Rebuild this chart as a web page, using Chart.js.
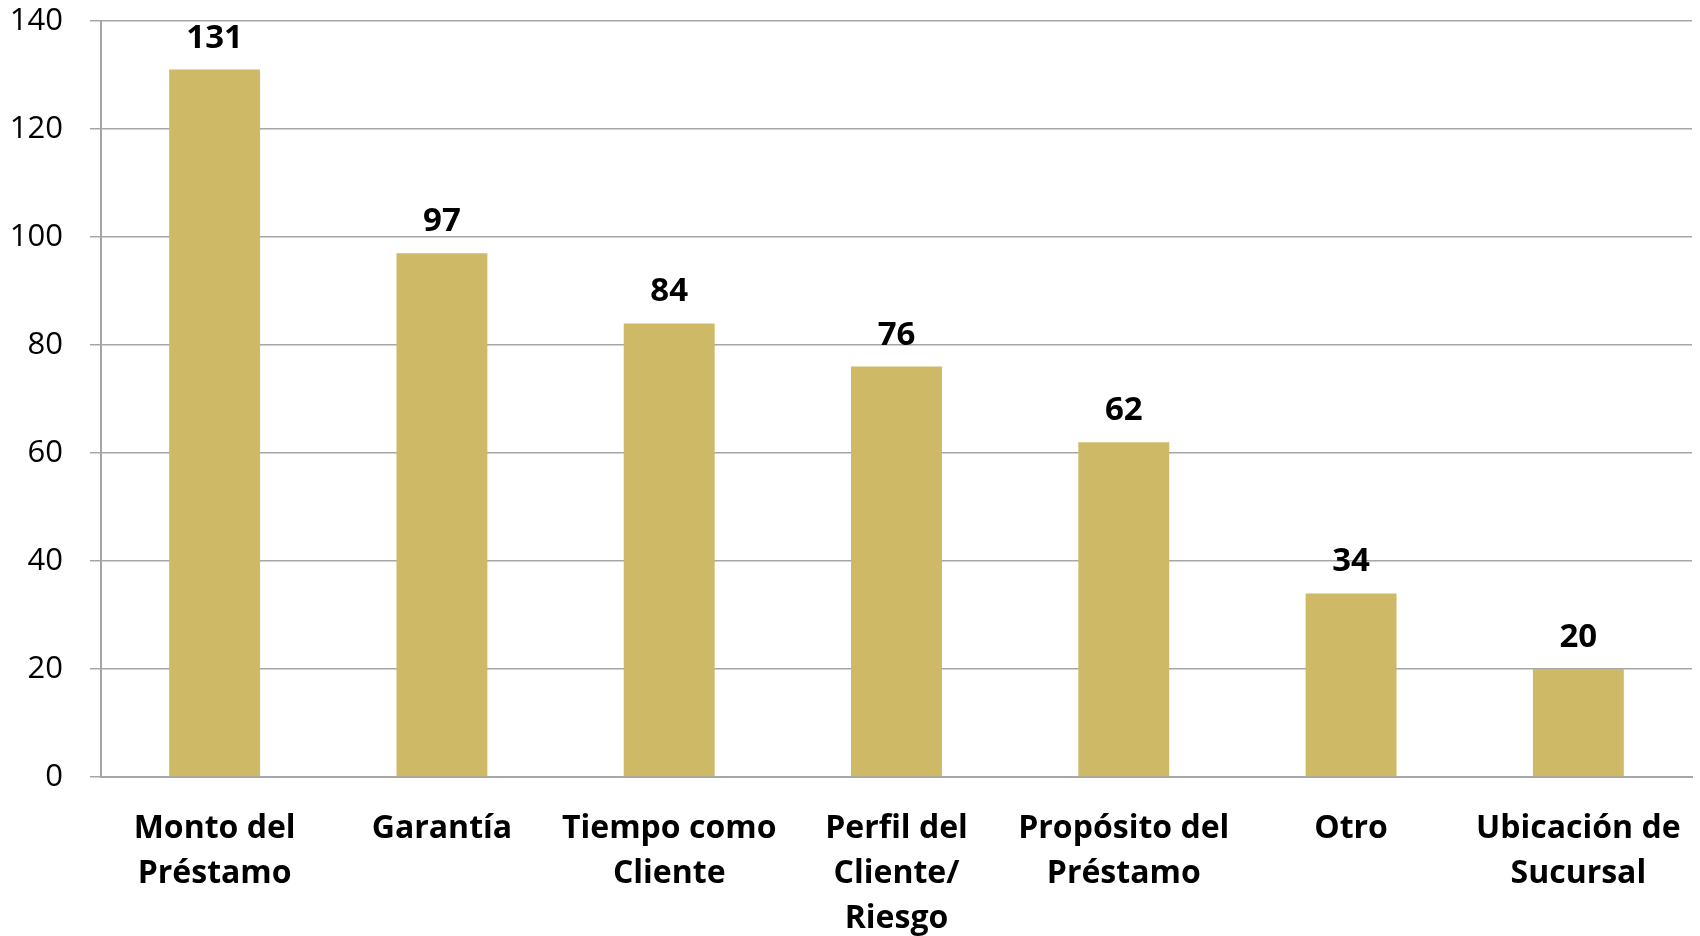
<!DOCTYPE html>
<html>
<head>
<meta charset="utf-8">
<script src="https://cdn.jsdelivr.net/npm/chart.js@4/dist/chart.umd.min.js"></script>
<style>
  html, body { margin:0; padding:0; background:#fff; }
  #wrap { width:1700px; height:936px; }
</style>
</head>
<body>
<div id="wrap"><canvas id="chart"></canvas></div>
<script>
// categories (wrapped like the original)
const categories = [
  ['Monto del', 'Préstamo'],
  ['Garantía'],
  ['Tiempo como', 'Cliente'],
  ['Perfil del', 'Cliente/', 'Riesgo'],
  ['Propósito del', 'Préstamo'],
  ['Otro'],
  ['Ubicación de', 'Sucursal']
];
const values = [131, 97, 84, 76, 62, 34, 20];
const yTicks = [0, 20, 40, 60, 80, 100, 120, 140];

const barColor = 'rgb(206,185,102)';
const gridColor = '#a6a6a6';
const fontFam = '"Open Sans", Lato, sans-serif';

// draws the value on top of each bar
const valueLabels = {
  id: 'valueLabels',
  afterDatasetsDraw(chart) {
    const ctx = chart.ctx;
    const meta = chart.getDatasetMeta(0);
    ctx.save();
    ctx.font = 'bold 33px ' + fontFam;
    ctx.fillStyle = '#000';
    ctx.textAlign = 'center';
    ctx.textBaseline = 'alphabetic';
    meta.data.forEach((bar, i) => {
      ctx.fillText(values[i], bar.x, bar.y - 22);
    });
    ctx.restore();
  }
};

new Chart(document.getElementById('chart'), {
  type: 'bar',
  data: {
    labels: categories,
    datasets: [{
      data: values,
      backgroundColor: barColor,
      borderWidth: 0,
      barPercentage: 0.4,
      categoryPercentage: 1
    }]
  },
  options: {
    responsive: true,
    maintainAspectRatio: false,
    animation: false,
    layout: { padding: { top: 21, right: 8, left: 0, bottom: 0 } },
    plugins: { legend: { display: false }, tooltip: { enabled: false } },
    scales: {
      x: {
        grid: { display: false, drawTicks: false },
        border: { display: true, color: gridColor, width: 2 },
        ticks: {
          color: '#000',
          padding: 29,
          maxRotation: 0,
          autoSkip: false,
          font: { family: fontFam, size: 32, weight: 'bold', lineHeight: 1.41 }
        },
        afterFit: s => { s.height = 159; s.paddingLeft = 0; s.paddingRight = 0; }
      },
      y: {
        min: 0,
        max: 140,
        afterBuildTicks: s => { s.ticks = yTicks.map(v => ({ value: v })); },
        grid: { color: gridColor, lineWidth: 1.5, tickLength: 11 },
        border: { display: true, color: gridColor, width: 2 },
        ticks: {
          color: '#000',
          padding: 27,
          font: { family: fontFam, size: 31 }
        },
        afterFit: s => { s.width = 101; s.paddingTop = 0; s.paddingBottom = 0; }
      }
    }
  },
  plugins: [valueLabels]
});
</script>
</body>
</html>
